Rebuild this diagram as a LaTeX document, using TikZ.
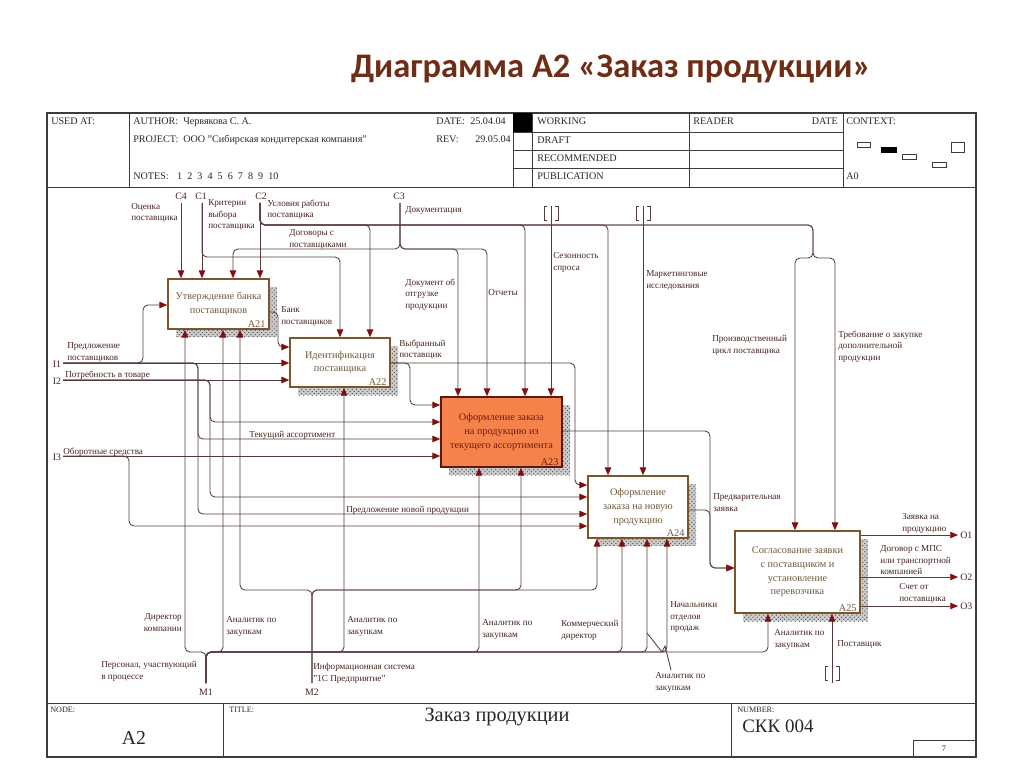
\documentclass[tikz,border=0pt]{standalone}
\usepackage{fontspec}
\setmainfont{Liberation Serif}
\newfontfamily\titlefont{Carlito}
\usetikzlibrary{arrows.meta,patterns,calc}
\definecolor{linecol}{RGB}{85,60,60}
\definecolor{arrowred}{RGB}{128,16,16}
\definecolor{lbltext}{RGB}{70,35,30}
\definecolor{boxborder}{RGB}{125,85,45}
\definecolor{boxtext}{RGB}{110,90,60}
\definecolor{afill}{RGB}{245,130,75}
\definecolor{aborder}{RGB}{90,25,10}
\definecolor{atext}{RGB}{120,25,10}
\definecolor{framecol}{RGB}{60,60,60}
\definecolor{headtext}{RGB}{40,40,40}
\definecolor{titlecol}{RGB}{110,45,20}
\begin{document}
\begin{tikzpicture}[x=0.025cm,y=-0.025cm,
  conn/.style={draw=linecol, line width=0.6pt, rounded corners=3.5pt},
  arr/.style={conn, -{Triangle[length=5.5pt,width=4.6pt,color=arrowred,fill=arrowred]}},
  lbl/.style={font=\fontsize{6.5}{8.3}\selectfont, text=lbltext, inner sep=0pt, align=left, anchor=north west, yshift=4.4pt, execute at begin node=\strut},
  lblr/.style={lbl, align=right, anchor=north east},
  code/.style={font=\fontsize{7}{8}\selectfont, text=lbltext, inner sep=0pt},
  box/.style={draw=boxborder, line width=1.1pt, fill=white, inner sep=0pt, align=center, font=\fontsize{7.3}{9.8}\selectfont, text=boxtext},
  hotbox/.style={box, draw=aborder, fill=afill, text=atext},
  num/.style={font=\fontsize{7.3}{8}\selectfont, inner sep=0pt, anchor=south east},
  shadowbg/.style={fill=gray!40},
  shadow/.style={pattern=crosshatch dots, pattern color=black!65},
  head/.style={font=\fontsize{7.2}{8}\selectfont, text=headtext, inner sep=0pt, anchor=base west},
  frame/.style={draw=framecol, line width=0.7pt},
  tun/.style={draw=linecol, line width=0.6pt}
]
\useasboundingbox (0,0) rectangle (1024,767);
\fill[white] (0,0) rectangle (1024,767);

% title
\node[font=\titlefont\bfseries\fontsize{24.5}{28}\selectfont, text=titlecol, anchor=base, inner sep=0pt] (title) at (611,78) {Диаграмма А2 «Заказ продукции»};

% frame and header
\draw[frame, line width=0.9pt] (47,113) rectangle (976,757);
\draw[frame] (47,187) -- (976,187);
\draw[frame] (129,113) -- (129,187);
\draw[frame] (513,113) -- (513,187);
\draw[frame] (532,113) -- (532,187);
\draw[frame] (689,113) -- (689,187);
\draw[frame] (843,113) -- (843,187);
\draw[frame] (513,132) -- (843,132);
\draw[frame] (513,150) -- (843,150);
\draw[frame] (513,168) -- (843,168);
\fill[black] (513,113) rectangle (532,132);
\node[head] (hused) at (51,125) {USED AT:};
\node[head] (hauth) at (133,125) {AUTHOR:};
\node[head] (hauthv) at (183,125) {Червякова С. А.};
\node[head] (hproj) at (133,143) {PROJECT:};
\node[head] (hprojv) at (183,143) {ООО "Сибирская кондитерская компания"};
\node[head] (hnotes) at (133,180) {NOTES:\kern6pt 1\kern3.6pt 2\kern3.6pt 3\kern3.6pt 4\kern3.6pt 5\kern3.6pt 6\kern3.6pt 7\kern3.6pt 8\kern3.6pt 9\kern3.6pt 10};
\node[head] (hdate) at (436,125) {DATE:};
\node[head] (hdatev) at (470,125) {25.04.04};
\node[head] (hrev) at (436,143) {REV:};
\node[head] (hrevv) at (475,143) {29.05.04};
\node[head] (hwork) at (537,125) {WORKING};
\node[head] (hdraft) at (537,144) {DRAFT};
\node[head] (hrec) at (537,162) {RECOMMENDED};
\node[head] (hpub) at (537,180) {PUBLICATION};
\node[head] (hread) at (693,125) {READER};
\node[head, anchor=base east] (hdate2) at (838,125) {DATE};
\node[head] (hctx) at (846,125) {CONTEXT:};
\node[head] (ha0) at (846,180) {A0};
\draw[frame, line width=0.6pt] (857,142) rectangle (870,147);
\fill[black] (881,147) rectangle (897,153);
\draw[frame, line width=0.6pt] (902,154) rectangle (916,159);
\draw[frame, line width=0.6pt] (932,162) rectangle (946,167);
\draw[frame, line width=0.6pt] (951,142) rectangle (964,152);

% footer
\draw[frame] (47,703) -- (976,703);
\draw[frame] (223,703) -- (223,757);
\draw[frame] (731,703) -- (731,757);
\draw[frame] (913,740) rectangle (976,757);
\node[head, font=\fontsize{5.8}{7}\selectfont] (fnode) at (50,712) {NODE:};
\node[head, font=\fontsize{5.8}{7}\selectfont] (ftitle) at (229,712) {TITLE:};
\node[head, font=\fontsize{5.8}{7}\selectfont] (fnum) at (737,712) {NUMBER:};
\node[head, font=\fontsize{14}{16}\selectfont, anchor=base] (fa2) at (134,744) {A2};
\node[head, font=\fontsize{14.5}{16}\selectfont, anchor=base] (ft) at (497,721) {Заказ продукции};
\node[head, font=\fontsize{13.5}{16}\selectfont] (fskk) at (742,732) {СКК 004};
\node[head, font=\fontsize{6}{7}\selectfont, anchor=base] (fpage) at (944,751) {7};

% shadows
\foreach \a/\b/\c/\d in {176/287/277/337, 298/346/398/395, 449/405/570/475, 596/484/696/546, 743/539/868/621} {
  \path[shadowbg] (\a,\b) rectangle (\c,\d);
  \path[shadow] (\a,\b) rectangle (\c,\d);
}

% boxes
\node[box, minimum width=2.525cm, minimum height=1.25cm] (A21) at (218.5,304) {Утверждение банка\\поставщиков};
\node[box, minimum width=2.5cm, minimum height=1.225cm] (A22) at (340,362.5) {Идентификация\\поставщика};
\node[hotbox, minimum width=3.025cm, minimum height=1.75cm] (A23) at (501.5,432) {Оформление заказа\\на продукцию из\\текущего ассортимента};
\node[box, minimum width=2.5cm, minimum height=1.55cm] (A24) at (638,507) {Оформление\\заказа на новую\\продукцию};
\node[box, minimum width=3.125cm, minimum height=2.05cm] (A25) at (797.5,572) {Согласование заявки\\с поставщиком и\\установление\\перевозчика};
\node[num, text=boxtext] (A21n) at ([shift={(-4,-2)}]A21.south east) {A21};
\node[num, text=boxtext] (A22n) at ([shift={(-4,-2)}]A22.south east) {A22};
\node[num, text=atext] (A23n) at ([shift={(-4,-2)}]A23.south east) {A23};
\node[num, text=boxtext] (A24n) at ([shift={(-4,-2)}]A24.south east) {A24};
\node[num, text=boxtext] (A25n) at ([shift={(-4,-2)}]A25.south east) {A25};

% boundary points
\coordinate (C4) at (181,203);
\coordinate (C1) at (202,203);
\coordinate (C2) at (260,203);
\coordinate (C3) at (400,203);
\coordinate (T1) at (551,206);
\coordinate (T2) at (643,206);
\coordinate (T3) at (832,683);
\coordinate (I1) at (63,363);
\coordinate (I2) at (63,380);
\coordinate (I3) at (63,456);
\coordinate (M1) at (206,683);
\coordinate (M2) at (312,683);
\coordinate (O1) at (958,535);
\coordinate (O2) at (958,577);
\coordinate (O3) at (958,606);

% controls
\draw[arr] (C4) -- (C4 |- A21.north);
\draw[arr] (C1) -- (C1 |- A21.north);
\draw[arr] (C1) |- (340,257) -- (340,0 |- A22.north);
\draw[arr] (C2) -- (C2 |- A21.north);
\draw[arr] (C2) |- (370,225) -- (370,0 |- A22.north);
\draw[arr] (C2) |- (525,225) -- (525,0 |- A23.north);
\draw[arr] (C2) |- (608,225) -- (608,0 |- A24.north);
\draw[arr] (C2) |- (813,225) -- (813,258) -| (795,0 |- A25.north);
\draw[arr] (C2) |- (813,225) -- (813,258) -| (835,0 |- A25.north);
\draw[arr] (C3) |- (233,249) -- (233,0 |- A21.north);
\draw[arr] (C3) |- (458,249) -- (458,0 |- A23.north);
\draw[arr] (C3) |- (487,249) -- (487,0 |- A23.north);
\draw[arr] (T1) -- (T1 |- A23.north);
\draw[arr] (T2) -- (T2 |- A24.north);

% inputs
\draw[arr] (I1) -- (A22.west |- I1);
\draw[arr] (I1) -| (143,305) -- (A21.west |- 0,305);
\draw[arr] (I1) -| (198,439) -- (A23.west |- 0,439);
\draw[arr] (I1) -| (198,514) -- (A24.west |- 0,514);
\draw[arr] (I2) -- (A22.west |- I2);
\draw[arr] (I2) -| (210,422) -- (A23.west |- 0,422);
\draw[arr] (I2) -| (210,497) -- (A24.west |- 0,497);
\draw[arr] (I3) -- (A23.west |- I3);
\draw[arr] (I3) -| (129,526) -- (A24.west |- 0,526);

% internal flows
\draw[arr] (A21.east |- 0,312) -| (278,347) -- (A22.west |- 0,347);
\draw[arr] (A22.east |- 0,363) -| (575,485) -- (A24.west |- 0,485);
\draw[arr] (A22.east |- 0,363) -| (410,405) -- (A23.west |- 0,405);
\draw[arr] (A23.east |- 0,431) -| (710,568) -- (A25.west |- 0,568);
\draw[arr] (A24.east |- 0,510) -| (710,568) -- (A25.west |- 0,568);

% outputs
\draw[arr] (A25.east |- O1) -- (O1);
\draw[arr] (A25.east |- O2) -- (O2);
\draw[arr] (A25.east |- O3) -- (O3);

% mechanisms
\draw[arr] (M1) |- (185,652) -- (185,0 |- A21.south);
\draw[arr] (M1) |- (223,652) -- (223,0 |- A21.south);
\draw[arr] (M1) |- (344,652) -- (344,0 |- A22.south);
\draw[arr] (M1) |- (479,652) -- (479,0 |- A23.south);
\draw[arr] (M1) |- (622,652) -- (622,0 |- A24.south);
\draw[arr] (M1) |- (647,652) -- (647,0 |- A24.south);
\draw[arr] (M1) |- (667,652) -- (667,0 |- A24.south);
\draw[arr] (M1) |- (768,652) -- (768,0 |- A25.south);
\draw[arr] (M2) |- (240,590) -- (240,0 |- A21.south);
\draw[arr] (M2) |- (521,590) -- (521,0 |- A23.south);
\draw[arr] (M2) |- (597,590) -- (597,0 |- A24.south);
\draw[arr] (T3) -- (T3 |- A25.south);

% squiggle
\draw[conn, rounded corners=0pt] (647,633) -- (662,652) -- (665,646) -- (671,670);

% tunnels
\foreach \tx/\ty in {551/213, 643/213, 832/673} {
  \draw[tun] (\tx-4,\ty-7) -- (\tx-7,\ty-7) -- (\tx-7,\ty+7) -- (\tx-4,\ty+7);
  \draw[tun] (\tx+4,\ty-7) -- (\tx+7,\ty-7) -- (\tx+7,\ty+7) -- (\tx+4,\ty+7);
}

% codes
\node[code] (cC4) at (181,196) {C4};
\node[code] (cC1) at (201,196) {C1};
\node[code] (cC2) at (261,196) {C2};
\node[code] (cC3) at (399,196) {C3};
\node[code] (cI1) at (57,364) {I1};
\node[code] (cI2) at (57,381) {I2};
\node[code] (cI3) at (57,457) {I3};
\node[code] (cM1) at (206,692) {M1};
\node[code] (cM2) at (312,692) {M2};
\node[code, anchor=west] (cO1) at (960,535) {O1};
\node[code, anchor=west] (cO2) at (960,577) {O2};
\node[code, anchor=west] (cO3) at (960,606) {O3};

% labels (position = baseline of first line)
\node[lbl] (l1) at (131,209) {Оценка\\поставщика};
\node[lbl] (l2) at (208,205.5) {Критерии\\выбора\\поставщика};
\node[lbl] (l3) at (267,205.5) {Условия работы\\поставщика};
\node[lbl] (l4) at (289,235.5) {Договоры с\\поставщиками};
\node[lbl] (l5) at (405,210.5) {Документация};
\node[lbl] (l6) at (405,284.5) {Документ об\\отгрузке\\продукции};
\node[lbl] (l7) at (488,293.5) {Отчеты};
\node[lbl] (l8) at (553,258.5) {Сезонность\\спроса};
\node[lbl] (l9) at (646,276.5) {Маркетинговые\\исследования};
\node[lbl] (l10) at (712,341.5) {Производственный\\цикл поставщика};
\node[lbl] (l11) at (838,336.5) {Требование о закупке\\дополнительной\\продукции};
\node[lbl] (l12) at (281,312.5) {Банк\\поставщиков};
\node[lbl] (l13) at (67,348.5) {Предложение\\поставщиков};
\node[lbl] (l14) at (65,375.5) {Потребность в товаре};
\node[lbl] (l15) at (399,345.5) {Выбранный\\поставщик};
\node[lbl] (l16) at (249,435.5) {Текущий ассортимент};
\node[lbl] (l17) at (63,452.5) {Оборотные средства};
\node[lbl] (l18) at (346,510.5) {Предложение новой продукции};
\node[lbl] (l19) at (713,499.5) {Предварительная\\заявка};
\node[lbl] (l20) at (902,519.5) {Заявка на\\продукцию};
\node[lbl] (l21) at (880,551.5) {Договор с МПС\\или транспортной\\компанией};
\node[lbl] (l22) at (899,589.5) {Счет от\\поставщика};
\node[lbl] (l23) at (774,635.5) {Аналитик по\\закупкам};
\node[lbl] (l24) at (837,644.5) {Поставщик};
\node[lblr] (l25) at (182,619.5) {Директор\\компании};
\node[lbl] (l26) at (226,622.5) {Аналитик по\\закупкам};
\node[lbl] (l27) at (347,622.5) {Аналитик по\\закупкам};
\node[lbl] (l28) at (101,667.5) {Персонал, участвующий\\в процессе};
\node[lbl] (l29) at (313,669.5) {Информационная система\\"1С Предприятие"};
\node[lbl] (l30) at (482,625.5) {Аналитик по\\закупкам};
\node[lbl] (l31) at (561,626.5) {Коммерческий\\директор};
\node[lbl] (l32) at (670,607.5) {Начальники\\отделов\\продаж};
\node[lbl] (l33) at (655,678.5) {Аналитик по\\закупкам};
\end{tikzpicture}
\end{document}
